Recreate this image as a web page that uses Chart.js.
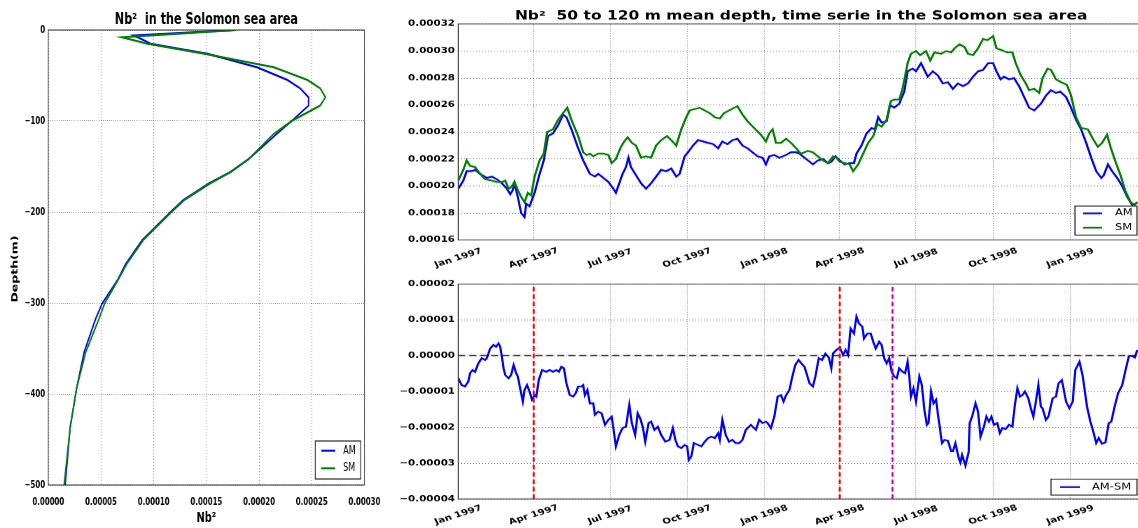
<!DOCTYPE html>
<html>
<head>
<meta charset="utf-8">
<script src="https://cdn.jsdelivr.net/npm/chart.js@4.4.0/dist/chart.umd.min.js"></script>
<style>
  html, body { margin: 0; padding: 0; background: #fff; overflow: hidden; width: 1138px; height: 528px; }
  canvas { position: absolute; transform-origin: 0 0; }
  /* a figura original foi redimensionada de forma desigual */
  #perfil { left: 0; top: 0; transform: scaleX(0.7); }
  #serie { left: 390px; top: 0; transform: scaleY(0.78); }
  #diferenca { left: 390px; top: 272px; transform: scaleY(0.78); }
</style>
</head>
<body>
<canvas id="perfil" width="560" height="528"></canvas>
<canvas id="serie" width="770" height="349"></canvas>
<canvas id="diferenca" width="770" height="328"></canvas>
<script>
// ---------- Dados: perfil vertical ----------
const profundidade = [0, -6, -8, -15, -26, -41, -55, -64, -74, -83, -100, -114, -142, -156, -169, -187, -200, -231, -257, -275, -300, -317, -354, -393, -437, -500];
const perfilAM = [0.000177, 0.000081, 0.000085, 0.000097, 0.000151, 0.000198, 0.000227, 0.000239, 0.000247, 0.000247, 0.000231, 0.000217, 0.000190, 0.000173, 0.000152, 0.000128, 0.000116, 0.000089, 0.0000735, 0.0000656, 0.0000513, 0.0000450, 0.0000340, 0.0000270, 0.0000207, 0.0000160];
const perfilSM = [0.000178, 0.000097, 0.000070, 0.000094, 0.000148, 0.000214, 0.000246, 0.000258, 0.000263, 0.000258, 0.000231, 0.000214, 0.000190, 0.000173, 0.000153, 0.000129, 0.000117, 0.000090, 0.0000745, 0.0000660, 0.0000536, 0.0000482, 0.0000355, 0.0000270, 0.0000207, 0.0000150];

// ---------- Dados: série temporal (dias desde 01/01/1997) ----------
const diasAM = [0, 6, 10, 16, 20, 26, 34, 40, 46, 52, 58, 62, 65, 67, 71, 75, 79, 81, 85, 91, 97, 102, 107, 113, 119, 125, 129, 135, 143, 149, 153, 157, 163, 167, 173, 179, 185, 188, 192, 196, 200, 203, 206, 212, 218, 224, 230, 236, 242, 248, 254, 260, 264, 270, 274, 280, 286, 292, 298, 304, 310, 315, 321, 327, 333, 339, 345, 351, 357, 363, 367, 371, 377, 383, 391, 397, 403, 407,
  409, 417, 423, 429, 435, 441, 445, 450, 455, 461, 467, 472, 475, 481, 487, 493, 497, 501, 505, 511, 515, 520, 526, 532, 536, 542, 546, 552, 556, 560, 566, 572, 578, 584, 590, 596, 602, 608, 614, 620, 626, 632, 638, 642, 647, 651, 657, 663, 669, 675, 681, 687, 695, 701, 707, 713, 718, 725, 731, 737, 743, 749, 755, 761, 767, 770, 775, 780, 786, 792, 798, 804, 808, 810];
const serieAM = [0.000198, 0.000204, 0.000211, 0.000211, 0.000212, 0.000209, 0.000206, 0.000207, 0.000205, 0.000202, 0.000198, 0.000194, 0.000197, 0.000202, 0.000192, 0.000180, 0.000177, 0.000187, 0.000185, 0.000195, 0.000209, 0.000219, 0.000237, 0.000239, 0.000245, 0.000253, 0.000251, 0.000242, 0.000228, 0.000219, 0.000214, 0.000209, 0.000207, 0.000209, 0.000206, 0.000203, 0.000198, 0.000195, 0.000202, 0.000209, 0.000214, 0.000221, 0.000214, 0.000208, 0.000202, 0.000198, 0.000202, 0.000207, 0.000212, 0.000211, 0.000213, 0.000207, 0.000209, 0.000222, 0.000225, 0.000230, 0.000234, 0.000233, 0.000232, 0.000231, 0.000228, 0.000233, 0.000231, 0.000234, 0.000235, 0.000230, 0.000228, 0.000225, 0.000222, 0.000221, 0.000216, 0.000222, 0.000223, 0.000221, 0.000223, 0.000225, 0.000225, 0.000224,
  0.000223, 0.000219, 0.000216, 0.000219, 0.000220, 0.000217, 0.000218, 0.000222, 0.000219, 0.000216, 0.000217, 0.000217, 0.000224, 0.000230, 0.000239, 0.000243, 0.000242, 0.000251, 0.000247, 0.000248, 0.000260, 0.000258, 0.000261, 0.000270, 0.000285, 0.000287, 0.000285, 0.000291, 0.000286, 0.000281, 0.000285, 0.000282, 0.000276, 0.000277, 0.000272, 0.000276, 0.000274, 0.000276, 0.000281, 0.000285, 0.000286, 0.000291, 0.000291, 0.000285, 0.000279, 0.000281, 0.000279, 0.000280, 0.000274, 0.000266, 0.000258, 0.000256, 0.000261, 0.000267, 0.000271, 0.000269, 0.000270, 0.000266, 0.000258, 0.000249, 0.000242, 0.000232, 0.000221, 0.000211, 0.000206, 0.000208, 0.000216, 0.000211, 0.000206, 0.000200, 0.000192, 0.000186, 0.000187, 0.000188];

const diasSM = [0, 6, 10, 14, 20, 26, 32, 40, 46, 52, 56, 60, 63, 67, 71, 75, 79, 83, 87, 91, 97, 102, 106, 113, 119, 125, 130, 135, 143, 149, 153, 157, 161, 167, 173, 179, 183, 188, 194, 198, 202, 207, 212, 218, 224, 230, 236, 242, 249, 254, 260, 266, 272, 276, 282, 288, 294, 300, 306, 312, 317, 323, 329, 333, 339, 345, 353, 361, 367, 371, 375, 379, 385, 391, 397, 403, 407,
  409, 417, 423, 429, 435, 441, 447, 451, 455, 461, 467, 471, 477, 483, 489, 495, 500, 505, 511, 516, 520, 526, 530, 536, 540, 546, 551, 558, 563, 568, 576, 582, 588, 592, 598, 604, 608, 614, 620, 626, 631, 638, 642, 647, 655, 661, 665, 671, 677, 681, 687, 693, 697, 703, 707, 713, 719, 726, 731, 737, 743, 751, 757, 763, 768, 774, 778, 784, 790, 796, 802, 807, 810];
const serieSM = [0.000204, 0.000212, 0.000219, 0.000215, 0.000214, 0.000209, 0.000205, 0.000204, 0.000203, 0.000203, 0.000204, 0.000198, 0.000199, 0.000203, 0.000197, 0.000192, 0.000188, 0.000195, 0.000193, 0.000207, 0.000219, 0.000224, 0.000240, 0.000242, 0.000249, 0.000254, 0.000258, 0.000249, 0.000237, 0.000225, 0.000223, 0.000224, 0.000222, 0.000224, 0.000224, 0.000223, 0.000217, 0.000220, 0.000229, 0.000233, 0.000236, 0.000232, 0.000230, 0.000221, 0.000222, 0.000221, 0.000230, 0.000234, 0.000237, 0.000234, 0.000230, 0.000242, 0.000251, 0.000256, 0.000257, 0.000258, 0.000256, 0.000254, 0.000251, 0.000250, 0.000254, 0.000256, 0.000258, 0.000259, 0.000253, 0.000248, 0.000243, 0.000238, 0.000233, 0.000239, 0.000242, 0.000232, 0.000232, 0.000235, 0.000232, 0.000228, 0.000225,
  0.000224, 0.000226, 0.000225, 0.000222, 0.000219, 0.000217, 0.000222, 0.000221, 0.000218, 0.000217, 0.000216, 0.000211, 0.000216, 0.000224, 0.000232, 0.000237, 0.000246, 0.000244, 0.000249, 0.000263, 0.000264, 0.000264, 0.000272, 0.000291, 0.000298, 0.000300, 0.000297, 0.000300, 0.000293, 0.000299, 0.000298, 0.000300, 0.000299, 0.000302, 0.000305, 0.000303, 0.000298, 0.000297, 0.000302, 0.000309, 0.000308, 0.000311, 0.000302, 0.000301, 0.000299, 0.000299, 0.000291, 0.000282, 0.000276, 0.000271, 0.000272, 0.000269, 0.000280, 0.000287, 0.000286, 0.000279, 0.000277, 0.000275, 0.000267, 0.000251, 0.000243, 0.000242, 0.000235, 0.000229, 0.000232, 0.000238, 0.000229, 0.000218, 0.000208, 0.000196, 0.000188, 0.000186, 0.000188];

// diferença AM-SM, em unidades de 1e-5
const diasDif = [0, 4, 8, 12, 14, 17, 20, 24, 28, 32, 34, 38, 42, 45, 48, 50, 52, 54, 56, 60, 63, 66, 69, 71, 73, 77, 79, 82, 85, 88, 91, 93, 96, 100, 105, 109, 113, 117, 120, 123, 126, 129, 133, 137, 140, 143, 147, 149, 151, 154, 157, 161, 163, 167, 171, 175, 179, 183, 185, 188, 192, 196, 200, 204, 207, 211, 214, 217, 220, 223, 227, 230, 234, 238, 242, 247, 252, 256, 259, 262, 266, 270, 273, 275, 278, 281, 286, 290, 294, 298, 302, 306, 310, 312, 315, 319, 323, 327, 331, 335, 339, 343, 349, 355, 359, 363, 367,
  369, 373, 377, 379, 381, 385, 388, 391, 395, 398, 402, 406, 409, 413, 416, 419, 423, 426, 430, 434, 438, 442, 445, 447, 451, 455, 459, 462, 465, 468, 472, 475, 478, 482, 484, 488, 492, 495, 498, 502, 505, 508, 511, 514, 517, 520, 523, 526, 530, 533, 536, 538, 540, 543, 546, 550, 553, 556, 559, 561, 564, 567, 570, 572, 574, 577, 580, 584, 588, 590, 593, 597, 599, 601, 605, 609, 610, 613, 617, 620, 623, 627, 630, 633, 636, 639, 643, 646, 649, 653, 657, 661, 664, 667, 670, 673, 676, 680, 683, 686, 689, 692, 695, 697, 701, 704, 709, 713, 716, 720, 722, 725, 729, 733, 736, 741, 745, 750, 754, 758, 761, 764, 768, 772, 776, 779, 783, 787, 792, 796, 800, 804, 807, 810];
const serieDif = [-0.63, -0.82, -0.86, -0.72, -0.49, -0.40, -0.45, -0.21, -0.07, -0.12, -0.07, 0.20, 0.30, 0.25, 0.34, 0.25, -0.03, -0.35, -0.54, -0.63, -0.54, -0.26, -0.49, -0.58, -0.82, -1.28, -0.96, -0.82, -1.00, -1.23, -1.10, -1.14, -0.68, -0.40, -0.45, -0.40, -0.45, -0.40, -0.45, -0.31, -0.35, -0.77, -1.10, -1.14, -1.05, -0.86, -0.86, -0.82, -1.10, -0.96, -1.33, -1.33, -1.65, -1.56, -1.61, -1.93, -1.79, -1.70, -2.02, -2.53, -2.21, -2.02, -1.98, -1.37, -1.88, -2.21, -1.61, -1.75, -1.98, -2.40, -1.88, -1.84, -2.07, -1.98, -2.21, -2.40, -2.35, -2.02, -2.35, -2.53, -2.58, -2.49, -2.53, -2.91, -2.81, -2.44, -2.49, -2.53, -2.40, -2.30, -2.26, -2.30, -2.16, -2.35, -1.79, -2.21, -2.40, -2.35, -2.44, -2.44, -2.35, -2.07, -1.93, -2.07, -1.79, -1.88, -1.84,
  -1.88, -2.02, -1.70, -1.42, -1.14, -1.10, -1.28, -1.10, -0.96, -0.63, -0.26, -0.12, -0.21, -0.31, -0.54, -0.77, -0.86, -0.58, -0.07, -0.12, 0.06, -0.05, -0.35, 0.06, 0.16, 0.23, 0.02, 0.16, 0.02, 0.76, 0.62, 1.09, 0.90, 0.81, 0.48, 0.62, 0.62, 0.39, 0.20, 0.39, 0.30, -0.07, -0.21, -0.07, -0.45, -0.58, -0.63, -0.35, -0.45, -0.49, -0.17, -0.58, -1.14, -0.91, -1.28, -0.58, -0.82, -1.51, -1.93, -1.88, -1.00, -1.33, -1.23, -1.61, -1.93, -2.44, -2.35, -2.37, -2.67, -2.67, -2.44, -2.86, -2.98, -2.77, -3.07, -2.67, -1.88, -1.70, -1.33, -1.56, -2.26, -1.98, -1.70, -1.84, -1.70, -1.93, -1.88, -2.16, -2.02, -2.05, -1.93, -1.98, -1.37, -0.91, -1.14, -1.10, -1.00, -1.19, -1.47, -1.70, -1.28, -0.82, -1.42, -1.47, -1.79, -1.70, -1.19, -1.14, -0.77, -0.68, -0.91, -1.28, -1.47, -1.28, -0.40, -0.17, -0.58, -1.42, -1.84, -2.16, -2.44, -2.30, -2.46, -2.42, -1.88, -1.84, -1.42, -1.05, -0.82, -0.40, -0.01, -0.01, -0.05, 0.16];

// eventos marcados no gráfico de baixo
const eventosVermelhos = [90, 455];
const eventoMagenta = 518;

// rótulos do eixo de tempo
const tickDias = [0, 90, 181, 273, 365, 455, 546, 638, 730];
const tickRotulos = ['Jan 1997', 'Apr 1997', 'Jul 1997', 'Oct 1997', 'Jan 1998', 'Apr 1998', 'Jul 1998', 'Oct 1998', 'Jan 1999'];
const diaFinal = 818;

// ---------- Configuração geral ----------
Chart.defaults.font.family = "'DejaVu Sans', sans-serif";
Chart.defaults.font.weight = 'bold';
Chart.defaults.color = '#000';
Chart.defaults.animation = false;

const AZUL = '#0000ff';
const VERDE = '#008000';
const GRADE = { color: 'rgba(0,0,0,0.45)', lineWidth: 1, drawTicks: false };
const BORDA = { display: false, dash: [1, 2] };

function pares(xs, ys) {
  return xs.map((x, i) => ({ x: x, y: ys[i] }));
}

function comMenos(txt) {
  return txt.replace('-', '\u2212');
}

// moldura completa em volta da área do gráfico (estilo matplotlib)
const moldura = {
  id: 'moldura',
  afterDatasetsDraw(chart) {
    const a = chart.chartArea;
    const ctx = chart.ctx;
    ctx.save();
    ctx.strokeStyle = '#333';
    ctx.lineWidth = 1;
    ctx.strokeRect(a.left, a.top, a.right - a.left, a.bottom - a.top);
    ctx.restore();
  }
};

// título do eixo y do perfil (um pouco abaixo do centro, como no original)
const tituloProfundidade = {
  id: 'tituloProfundidade',
  afterDraw(chart) {
    const ctx = chart.ctx;
    ctx.save();
    ctx.font = "bold 12.5px 'DejaVu Sans'";
    ctx.fillStyle = '#000';
    ctx.textAlign = 'center';
    ctx.textBaseline = 'middle';
    ctx.translate(21.4, 269);
    ctx.rotate(-Math.PI / 2);
    ctx.fillText('Depth(m)', 0, 0);
    ctx.restore();
  }
};

// legenda em caixa no canto inferior direito
function legendaCaixa(itens, c) {
  return {
    id: 'legendaCaixa',
    afterDraw(chart) {
      const ctx = chart.ctx, a = chart.chartArea;
      const x0 = a.right - c.margemDir - c.largura;
      const y0 = a.bottom - c.margemBaixo - c.altura;
      ctx.save();
      ctx.fillStyle = '#fff';
      ctx.fillRect(x0, y0, c.largura, c.altura);
      ctx.strokeStyle = '#000';
      ctx.lineWidth = 1;
      ctx.strokeRect(x0, y0, c.largura, c.altura);
      ctx.font = c.fonte;
      ctx.textBaseline = 'middle';
      itens.forEach((it, i) => {
        const y = y0 + c.linhas[i];
        ctx.strokeStyle = it.cor;
        ctx.lineWidth = c.espessura;
        ctx.beginPath();
        ctx.moveTo(x0 + c.traco[0], y);
        ctx.lineTo(x0 + c.traco[1], y);
        ctx.stroke();
        ctx.fillStyle = '#000';
        ctx.fillText(it.rotulo, x0 + c.texto, y);
      });
      ctx.restore();
    }
  };
}

// rótulos de data inclinados e centrados no tick
function rotulosData(yCentro) {
  return {
    id: 'rotulosData',
    afterDraw(chart) {
      const ctx = chart.ctx, sx = chart.scales.x;
      ctx.save();
      ctx.font = "bold 10.3px 'DejaVu Sans'";
      ctx.fillStyle = '#000';
      ctx.textAlign = 'center';
      ctx.textBaseline = 'middle';
      tickDias.forEach((d, i) => {
        ctx.save();
        ctx.translate(sx.getPixelForValue(d), yCentro);
        ctx.rotate(-22 * Math.PI / 180);
        ctx.fillText(tickRotulos[i], 0, 0);
        ctx.restore();
      });
      ctx.restore();
    }
  };
}

function eixoTempo(altura) {
  return {
    type: 'linear',
    min: 0,
    max: diaFinal,
    grid: GRADE,
    border: BORDA,
    ticks: { display: false },
    afterBuildTicks: (s) => { s.ticks = tickDias.map(v => ({ value: v })); },
    afterFit: (s) => { s.height = altura; }
  };
}

// ---------- Gráfico 1: perfil vertical ----------
new Chart(document.getElementById('perfil'), {
  type: 'scatter',
  data: {
    datasets: [
      { label: 'AM', data: pares(perfilAM, profundidade), showLine: true, borderColor: AZUL, borderWidth: 2, pointRadius: 0, order: 1 },
      { label: 'SM', data: pares(perfilSM, profundidade), showLine: true, borderColor: VERDE, borderWidth: 2, pointRadius: 0, order: 0 }
    ]
  },
  options: {
    responsive: false,
    layout: { padding: { left: 0, right: 39.4, top: 0, bottom: 0 } },
    plugins: {
      legend: { display: false },
      tooltip: { enabled: false },
      title: {
        display: true,
        text: 'Nb\u00b2  in the Solomon sea area',
        fullSize: false,
        font: { size: 16, weight: 'bold' },
        padding: { top: 10.4, bottom: 0.4 }
      }
    },
    scales: {
      x: {
        type: 'linear', min: 0, max: 0.0003,
        grid: GRADE, border: BORDA,
        ticks: { stepSize: 0.00005, padding: 11, maxRotation: 0, font: { size: 10 }, callback: (v) => v.toFixed(5) },
        title: { display: true, text: 'Nb\u00b2', font: { size: 14, weight: 'bold' }, padding: { top: 0, bottom: 1 } },
        afterFit: (s) => { s.height = 43; }
      },
      y: {
        type: 'linear', min: -500, max: 0,
        grid: GRADE, border: BORDA,
        ticks: { stepSize: 100, padding: 4.6, font: { size: 10 }, callback: (v) => comMenos(String(v)) },
        afterFit: (s) => { s.width = 69; }
      }
    }
  },
  plugins: [moldura, tituloProfundidade, legendaCaixa(
    [{ rotulo: 'AM', cor: AZUL }, { rotulo: 'SM', cor: VERDE }],
    { largura: 65, altura: 38, margemDir: 5.3, margemBaixo: 6, linhas: [9.7, 27.3], traco: [8.6, 28.6], texto: 40, espessura: 2, fonte: "11.5px 'DejaVu Sans'" }
  )]
});

// ---------- Gráfico 2: série temporal AM e SM ----------
new Chart(document.getElementById('serie'), {
  type: 'line',
  data: {
    datasets: [
      { label: 'AM', data: pares(diasAM, serieAM), borderColor: AZUL, borderWidth: 2.2, pointRadius: 0, tension: 0, order: 1 },
      { label: 'SM', data: pares(diasSM, serieSM), borderColor: VERDE, borderWidth: 2.2, pointRadius: 0, tension: 0, order: 0 }
    ]
  },
  options: {
    responsive: false,
    layout: { padding: { left: 0, right: 16, top: 0, bottom: 0 } },
    plugins: {
      legend: { display: false },
      tooltip: { enabled: false },
      title: {
        display: true,
        text: 'Nb\u00b2  50 to 120 m mean depth, time serie in the Solomon sea area',
        fullSize: false,
        font: { size: 15.5, weight: 'bold' },
        padding: { top: 11.5, bottom: 0.7 }
      }
    },
    scales: {
      x: eixoTempo(41.3),
      y: {
        type: 'linear', min: 0.00016, max: 0.00032,
        grid: GRADE, border: BORDA,
        ticks: { stepSize: 0.00002, padding: 3.3, font: { size: 10.3 }, callback: (v) => v.toFixed(5) },
        afterFit: (s) => { s.width = 68.3; }
      }
    }
  },
  plugins: [moldura, rotulosData(330.8), legendaCaixa(
    [{ rotulo: 'AM', cor: AZUL }, { rotulo: 'SM', cor: VERDE }],
    { largura: 62, altura: 37.2, margemDir: 7, margemBaixo: 6.4, linhas: [9.4, 27.8], traco: [8, 27], texto: 40, espessura: 2.2, fonte: "11.5px 'DejaVu Sans'" }
  )]
});

// ---------- Gráfico 3: diferença AM-SM ----------
const linhasEvento = eventosVermelhos.map((d) => ({
  data: [{ x: d, y: -4 }, { x: d, y: 2 }],
  borderColor: '#ff0000', borderWidth: 2, borderDash: [6, 3.5], pointRadius: 0, order: 0
}));

new Chart(document.getElementById('diferenca'), {
  type: 'line',
  data: {
    datasets: [
      { label: 'AM-SM', data: pares(diasDif, serieDif), borderColor: AZUL, borderWidth: 2.2, pointRadius: 0, tension: 0, order: 2 },
      { data: [{ x: 0, y: 0 }, { x: diaFinal, y: 0 }], borderColor: '#000', borderWidth: 1.5, borderDash: [7, 4], pointRadius: 0, order: 1 },
      ...linhasEvento,
      { data: [{ x: eventoMagenta, y: -4 }, { x: eventoMagenta, y: 2 }], borderColor: '#bf00bf', borderWidth: 2, borderDash: [6, 3.5], pointRadius: 0, order: 0 }
    ]
  },
  options: {
    responsive: false,
    layout: { padding: { left: 0, right: 16, top: 15.4, bottom: 0 } },
    plugins: { legend: { display: false }, tooltip: { enabled: false } },
    scales: {
      x: eixoTempo(37),
      y: {
        type: 'linear', min: -4, max: 2,
        grid: GRADE, border: BORDA,
        ticks: {
          stepSize: 1, padding: 3.3, font: { size: 10.3 },
          callback: (v) => comMenos((Math.abs(v) < 1e-9 ? 0 : v / 1e5).toFixed(5))
        },
        afterFit: (s) => { s.width = 68.3; }
      }
    }
  },
  plugins: [moldura, rotulosData(311.5), legendaCaixa(
    [{ rotulo: 'AM-SM', cor: AZUL }],
    { largura: 86, altura: 20.5, margemDir: 7, margemBaixo: 5, linhas: [10.25], traco: [9, 29], texto: 41, espessura: 2.2, fonte: "11.5px 'DejaVu Sans'" }
  )]
});
</script>
</body>
</html>
